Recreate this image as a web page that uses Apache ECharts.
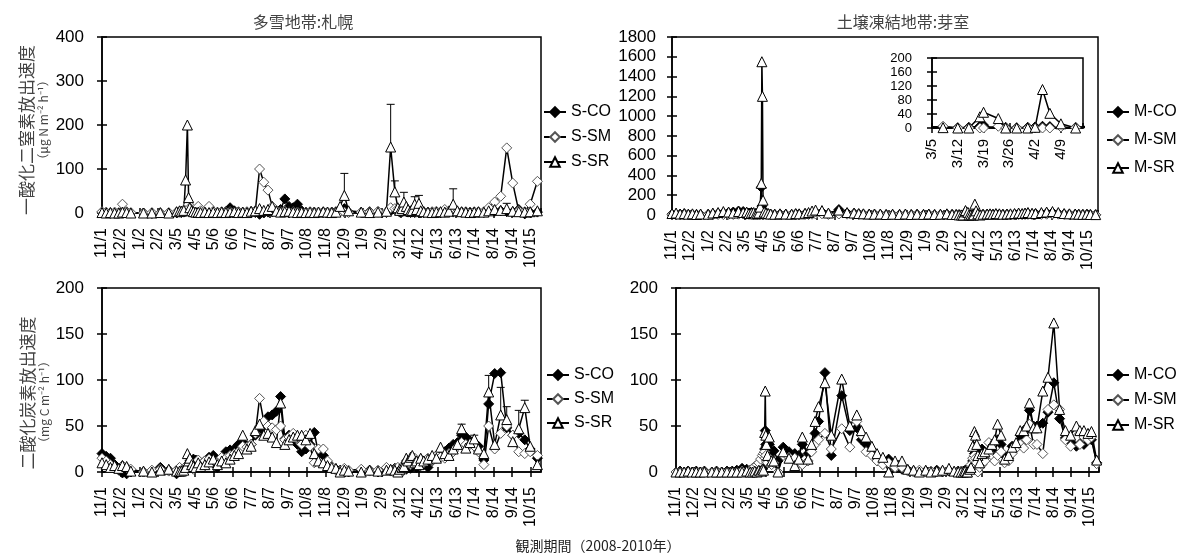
<!DOCTYPE html>
<html><head><meta charset="utf-8">
<script src="https://cdn.jsdelivr.net/npm/echarts@6/dist/echarts.min.js"></script>
<style>html,body{margin:0;padding:0;background:#fff}#c{width:1179px;height:555px}</style>
</head><body><div id="c"></div>
<script>
// ---------- tick labels ----------
const xTickLabels = ['11/1','12/2','1/2','2/2','3/5','4/5','5/6','6/6','7/7','8/7','9/7','10/8','11/8','12/9','1/9','2/9','3/12','4/12','5/13','6/13','7/14','8/14','9/14','10/15'];
const insetTickLabels = ['3/5','3/12','3/19','3/26','4/2','4/9'];

// ---------- Sapporo (多雪地帯) ----------
const sapDates = ['2008-11-01','2008-11-08','2008-11-15','2008-11-22','2008-11-29','2008-12-05','2008-12-12','2008-12-19','2009-01-09','2009-01-23',
'2009-02-06','2009-02-20','2009-03-05','2009-03-10','2009-03-13','2009-03-17','2009-03-20','2009-03-23','2009-03-25','2009-03-27',
'2009-03-30','2009-04-02','2009-04-06','2009-04-10','2009-04-14','2009-04-21','2009-04-28','2009-05-05','2009-05-12','2009-05-19',
'2009-05-26','2009-06-02','2009-06-09','2009-06-16','2009-06-23','2009-06-30','2009-07-07','2009-07-14','2009-07-21','2009-07-28',
'2009-08-04','2009-08-11','2009-08-18','2009-08-25','2009-09-01','2009-09-08','2009-09-15','2009-09-22','2009-09-29','2009-10-06',
'2009-10-13','2009-10-20','2009-10-27','2009-11-04','2009-11-11','2009-11-18','2009-11-25','2009-12-02','2009-12-09','2009-12-16',
'2010-01-06','2010-01-20','2010-02-03','2010-02-17','2010-02-24','2010-03-03','2010-03-08','2010-03-11','2010-03-15','2010-03-18',
'2010-03-22','2010-03-25','2010-03-29','2010-04-01','2010-04-05','2010-04-08','2010-04-12','2010-04-15','2010-04-20','2010-04-27',
'2010-05-04','2010-05-11','2010-05-18','2010-05-25','2010-06-01','2010-06-08','2010-06-15','2010-06-22','2010-06-29','2010-07-06',
'2010-07-13','2010-07-20','2010-07-29','2010-08-06','2010-08-16','2010-08-26','2010-09-05','2010-09-15','2010-09-25','2010-10-05',
'2010-10-14','2010-10-26'];
// N2O (µg N m-2 h-1)
const sapN2O_CO = [2,1,0,1,0,1,0,0,0,-1, 0,0,1,2,1,2,5,10,6,3, 2,1,1,0,1,0,1,2,1,2, 3,12,5,2,1,2,3,1,-3,0,
 2,3,5,8,32,15,12,20,5,2, 1,2,1,2,1,2,3,8,10,2, 1,3,2,1,5,8,5,2,3,4, 3,2,1,2,1,2,1,0,1,2,
 1,2,1,2,3,4,3,2,1,2, 1,2,1,3,4,5,3,2,8,-2, 1,2];
const sapN2O_SM = [3,2,1,2,1,20,3,1,0,1, 0,1,2,4,3,5,10,15,20,12, 6,4,3,15,5,3,15,4,2,3, 2,3,2,3,2,3,2,5,100,70,
 52,15,5,3,5,2,3,2,1,2, 3,1,2,1,2,1,2,3,2,1, 2,2,4,2,12,10,10,8,5,12, 8,6,4,5,4,3,5,2,3,2,
 3,4,2,8,5,2,3,2,3,2, 3,2,3,12,25,38,148,68,5,3, 20,72];
const sapN2O_SR = [1,0,1,0,0,2,1,0,0,0, 1,0,3,5,4,6,75,200,35,12, 5,3,2,2,1,2,1,2,1,2, 1,2,3,1,2,1,4,5,10,6,
 8,15,4,2,3,4,2,1,2,1, 2,1,2,3,2,1,2,15,40,5, 2,1,2,4,150,48,12,6,10,25, 15,8,5,6,20,8,22,5,3,2,
 1,2,3,2,4,20,5,3,2,1, 2,3,2,5,8,6,10,4,3,2, 3,5];
const sapN2O_SRerrDates = ['2009-12-09','2010-02-24','2010-03-03','2010-03-18','2010-04-05','2010-04-12','2010-06-08','2010-09-05'];
const sapN2O_SRerrSD    = [50,97,25,22,17,18,35,12];
// CO2 (mg C m-2 h-1)
const sapCO2_CO = [20,17,15,8,2,-1,-2,0,0,1, 5,2,-2,2,3,1,3,5,8,12, 10,14,13,12,10,12,16,18,5,14, 22,24,25,30,32,28,30,40,45,50,
 60,62,66,82,36,40,35,30,22,25, 30,43,20,18,10,5,3,2,1,0, 1,2,0,3,2,4,3,1,2,4, 3,5,4,6,8,5,10,7,8,5,
 12,15,20,22,26,30,32,40,38,34, 32,28,13,74,107,108,48,40,42,35, 25,15];
const sapCO2_SM = [15,12,8,5,3,7,5,3,0,2, 3,1,2,5,2,3,4,8,6,10, 5,3,8,13,8,12,14,12,10,16, 15,18,20,22,28,27,30,42,80,55,
 50,48,46,50,35,38,42,35,30,40, 28,10,25,25,12,6,2,1,4,2, 3,1,2,5,1,3,5,2,0,8, 12,10,8,12,15,10,12,14,10,15,
 12,18,16,15,20,22,28,32,30,30, 28,22,8,50,25,42,50,40,22,20, 22,18];
const sapCO2_SR = [10,8,5,7,4,7,6,1,1,0, 2,3,1,1,1,2,5,20,12,15, 8,6,5,10,6,8,11,14,8,12, 10,14,18,20,40,25,28,45,52,40,
 42,38,32,75,30,35,38,40,40,35, 42,20,12,10,7,5,4,0,2,1, 0,2,1,2,3,2,0,3,5,6, 15,12,16,18,10,12,8,15,12,14,
 18,15,27,20,18,25,30,47,26,32, 36,25,20,87,30,62,57,33,47,70, 28,8];
const sapCO2_SRerrDates = ['2010-06-22','2010-07-13','2010-08-06','2010-08-26','2010-09-05','2010-09-25','2010-10-05'];
const sapCO2_SRerrSD    = [5,4,18,30,14,20,8];

// ---------- Memuro (土壌凍結地帯) ----------
const memDates = ['2008-11-01','2008-11-08','2008-11-15','2008-11-22','2008-11-29','2008-12-06','2008-12-13','2008-12-20','2009-01-02','2009-01-10',
'2009-01-19','2009-01-28','2009-02-06','2009-02-14','2009-02-23','2009-03-03','2009-03-09','2009-03-13','2009-03-17','2009-03-21',
'2009-03-24','2009-03-27','2009-03-30','2009-04-01','2009-04-03','2009-04-04','2009-04-05','2009-04-06','2009-04-08','2009-04-11',
'2009-04-15','2009-04-19','2009-04-26','2009-05-05','2009-05-15','2009-05-25','2009-06-01','2009-06-07','2009-06-17','2009-06-23',
'2009-06-29','2009-07-05','2009-07-16','2009-07-27','2009-08-14','2009-08-28','2009-09-09','2009-09-17','2009-09-25','2009-10-05',
'2009-10-14','2009-10-24','2009-11-03','2009-11-14','2009-11-26','2009-12-06','2009-12-16','2009-12-26','2010-01-06','2010-01-15',
'2010-01-25','2010-02-04','2010-02-15','2010-02-24','2010-03-03','2010-03-08','2010-03-12','2010-03-15','2010-03-18','2010-03-19',
'2010-03-23','2010-03-25','2010-03-28','2010-03-31','2010-04-02','2010-04-04','2010-04-06','2010-04-09','2010-04-13','2010-04-18',
'2010-04-25','2010-04-30','2010-05-05','2010-05-10','2010-05-16','2010-05-22','2010-05-29','2010-06-04','2010-06-11','2010-06-18',
'2010-06-24','2010-06-29','2010-07-04','2010-07-11','2010-07-17','2010-07-27','2010-08-05','2010-08-15','2010-08-25','2010-09-04',
'2010-09-13','2010-09-23','2010-09-29','2010-10-06','2010-10-13','2010-10-19','2010-10-28'];
const memN2O_CO = [10,5,8,12,5,3,6,4,5,10, 15,20,25,30,40,35,15,20,25,10, 15,20,30,20,280,90,60,40,20,15, 10,8,5,8,5,3,10,8,12,15,
 20,25,30,10,55,20,15,10,8,5, 8,5,3,5,4,6,3,5,4,6, 3,5,8,4,3,2,1,2,5,8, -5,2,1,2,3,5,4,-3,2,4,
 5,6,4,8,6,4,5,6,8,10, 8,12,15,10,12,15,20,25,15,10, 8,6,5,4,5,3,2];
const memN2O_SM = [5,3,2,4,2,1,2,1,2,3, 5,4,6,5,8,10,8,5,10,5, 8,6,10,5,10,8,10,5,8,5, 3,5,2,3,2,4,5,3,4,5,
 8,10,12,5,10,8,10,5,4,3, 2,3,2,3,2,3,2,1,2,3, 2,2,3,2,1,5,0,0,0,0, 5,0,0,0,0,0,0,3,1,2,
 3,2,3,4,3,2,3,4,3,5, 4,5,6,5,4,6,8,10,8,5, 4,3,2,3,2,2,1];
const memN2O_SR = [15,20,10,15,8,12,5,10,8,20, 25,35,30,20,35,25,30,15,20,25, 10,15,20,80,320,1550,1200,150,30,20, 15,10,8,12,10,8,15,12,18,25,
 40,50,45,20,50,25,20,15,12,10, 8,10,5,8,6,10,5,8,6,10, 5,8,12,6,5,1,0,0,32,45, 27,0,0,0,2,110,42,12,0,8,
 10,12,8,15,12,8,10,12,15,20, 15,20,25,18,15,25,30,35,25,15, 12,10,8,6,8,5,4];
const memCO2_CO = [0,1,0,1,0,1,0,1,0,1, 0,1,1,2,4,3,2,1,0,2, 1,2,3,5,25,45,30,28,22,30, 22,23,12,27,22,20,18,30,20,25,
 42,55,108,18,83,45,48,35,30,22, 16,12,14,8,3,2,1,0,1,0, 2,0,1,0,1,0,1,2,0,1, 2,3,12,20,28,25,25,22,25,20,
 20,22,20,35,30,18,15,28,30,40, 40,48,67,50,50,53,65,97,58,37, 33,28,32,30,38,35,10];
const memCO2_SM = [0,0,0,0,0,0,0,0,0,0, 0,0,0,0,1,0,2,4,6,8, 10,14,18,20,22,15,18,12,10,15, 8,10,0,18,16,15,10,8,12,22,
 30,35,42,25,47,27,55,40,22,18, 12,8,10,5,5,1,0,2,0,1, 0,1,2,0,0,1,0,0,2,0, 4,8,15,18,15,10,0,5,8,12,
 32,18,12,18,22,10,12,20,26,30, 26,35,52,30,30,20,68,73,68,35, 28,38,30,38,35,38,9];
const memCO2_SR = [0,0,0,1,0,0,0,0,0,0, 0,0,0,0,0,1,0,0,1,0, 2,1,3,2,43,88,40,30,18,38, 12,12,0,22,15,7,14,38,14,30,
 55,71,97,40,101,50,62,45,38,28, 20,16,0,12,12,3,2,0,2,0, 1,2,4,1,0,0,0,1,0,0, 3,5,28,44,40,30,18,10,20,22,
 25,30,35,52,40,14,18,27,32,45, 45,50,75,48,48,88,103,162,68,45, 40,50,45,45,42,44,13];

// ---------- helpers ----------
const BASE = Date.UTC(2008, 10, 1);
const dayOf = s => Math.round((Date.parse(s) - BASE) / 86400000);
const pts = (dates, vals) => dates.map((d, i) => [dayOf(d), vals[i]]);
const errPts = (dates, vals, eDates, sd) => eDates.map((d, i) => { const v = vals[dates.indexOf(d)]; return [dayOf(d), v, v + sd[i]]; });
const FONT = '"Liberation Sans", Arial, sans-serif';
const JP = '"Noto Sans CJK JP", sans-serif';
const INSET_MIN = dayOf('2010-03-05');

const grids = [
  {left:102, top:37, width:439, height:176},
  {left:672, top:37, width:426, height:178},
  {left:102, top:288, width:439, height:184},
  {left:676, top:288, width:423, height:184},
  {left:932, top:58, width:151, height:70}
].map(g => Object.assign({show:true, borderColor:'#000', borderWidth:1.5, backgroundColor:'#fff', containLabel:false}, g));

const tickStyle = {color:'#000', width:1.5};
function xPair(g, min, max, interval, fmt, fontSize, margin) {
  const base = {type:'value', gridIndex:g, min, max, interval, position:'bottom', splitLine:{show:false}};
  return [
    Object.assign({}, base, {axisLine:{show:true, onZero:false, lineStyle:tickStyle},
      axisTick:{show:true, inside:false, length:5, lineStyle:tickStyle},
      axisLabel:{show:true, rotate:90, margin, fontSize, color:'#000', fontFamily:FONT, formatter:fmt, showMaxLabel:false, showMinLabel:true, hideOverlap:false}}),
    Object.assign({}, base, {axisLine:{show:false, onZero:false}, axisTick:{show:true, inside:true, length:5, lineStyle:tickStyle}, axisLabel:{show:false}})
  ];
}
function yPair(g, min, max, interval, fontSize, margin, lineHeight) {
  const base = {type:'value', gridIndex:g, min, max, interval, position:'left', splitLine:{show:false}};
  return [
    Object.assign({}, base, {axisLine:{show:true, onZero:false, lineStyle:tickStyle},
      axisTick:{show:true, inside:false, length:5, lineStyle:tickStyle},
      axisLabel:{show:true, interval:0, margin, fontSize, lineHeight: lineHeight || fontSize, color:'#000', fontFamily:FONT, hideOverlap:false,
        showMinLabel:true, showMaxLabel:true, formatter:v => String(v)}}),
    Object.assign({}, base, {axisLine:{show:false, onZero:false}, axisTick:{show:true, inside:true, length:5, lineStyle:tickStyle}, axisLabel:{show:false}})
  ];
}
const mainFmt = v => xTickLabels[Math.round(v / 31)] || '';
const insetFmt = v => insetTickLabels[Math.round((v - INSET_MIN) / 7)] || '';

const xAxis = [].concat(
  xPair(0, 0, 730, 31, mainFmt, 16, 15),
  xPair(1, 0, 730, 31, mainFmt, 16, 15),
  xPair(2, 0, 730, 31, mainFmt, 16, 15),
  xPair(3, 0, 730, 31, mainFmt, 16, 15),
  xPair(4, INSET_MIN, INSET_MIN + 41, 7, insetFmt, 15, 11)
);
const yAxis = [].concat(
  yPair(0, 0, 400, 100, 17, 18),
  yPair(1, 0, 1800, 200, 17, 16),
  yPair(2, 0, 200, 50, 17, 18),
  yPair(3, 0, 200, 50, 17, 18),
  yPair(4, 0, 200, 40, 13, 20, 11)
);

const styles = {
  CO: {symbol:'diamond', symbolSize:10, itemStyle:{color:'#000', borderColor:'#000', borderWidth:1}},
  SM: {symbol:'diamond', symbolSize:10, itemStyle:{color:'#fff', borderColor:'#555', borderWidth:1}},
  SR: {symbol:'triangle', symbolSize:10, itemStyle:{color:'#fff', borderColor:'#000', borderWidth:1}}
};
function line(name, kind, data, g, clip) {
  return Object.assign({type:'line', name, data, xAxisIndex:2*g, yAxisIndex:2*g, clip:!!clip,
    lineStyle:{color:'#000', width:1.5}, showAllSymbol:true, animation:false, z:3}, styles[kind]);
}
function errBars(data, g) {
  return {type:'custom', xAxisIndex:2*g, yAxisIndex:2*g, data, z:2, animation:false, silent:true,
    renderItem:(params, api) => {
      const p0 = api.coord([api.value(0), api.value(1)]);
      const p1 = api.coord([api.value(0), api.value(2)]);
      return {type:'group', children:[
        {type:'line', shape:{x1:p0[0], y1:p0[1], x2:p1[0], y2:p1[1]}, style:{stroke:'#000', lineWidth:1}},
        {type:'line', shape:{x1:p1[0]-4, y1:p1[1], x2:p1[0]+4, y2:p1[1]}, style:{stroke:'#000', lineWidth:1}}
      ]};
    }};
}

const series = [
  errBars(errPts(sapDates, sapN2O_SR, sapN2O_SRerrDates, sapN2O_SRerrSD), 0),
  line('S-CO','CO', pts(sapDates, sapN2O_CO), 0),
  line('S-SM','SM', pts(sapDates, sapN2O_SM), 0),
  line('S-SR','SR', pts(sapDates, sapN2O_SR), 0),
  line('M-CO','CO', pts(memDates, memN2O_CO), 1),
  line('M-SM','SM', pts(memDates, memN2O_SM), 1),
  line('M-SR','SR', pts(memDates, memN2O_SR), 1),
  errBars(errPts(sapDates, sapCO2_SR, sapCO2_SRerrDates, sapCO2_SRerrSD), 2),
  line('S-CO','CO', pts(sapDates, sapCO2_CO), 2),
  line('S-SM','SM', pts(sapDates, sapCO2_SM), 2),
  line('S-SR','SR', pts(sapDates, sapCO2_SR), 2),
  line('M-CO','CO', pts(memDates, memCO2_CO), 3),
  line('M-SM','SM', pts(memDates, memCO2_SM), 3),
  line('M-SR','SR', pts(memDates, memCO2_SR), 3),
  // inset: same Memuro N2O data, zoomed to March–April 2010
  line('M-CO','CO', pts(memDates, memN2O_CO), 4, true),
  line('M-SM','SM', pts(memDates, memN2O_SM), 4, true),
  line('M-SR','SR', pts(memDates, memN2O_SR), 4, true)
];

function legend(names, left, top, gap) {
  return {show:true, data:names, orient:'vertical', left, top, itemGap:gap, itemWidth:22, itemHeight:12, padding:0,
    selectedMode:false, textStyle:{fontSize:16, color:'#000', fontFamily:FONT, lineHeight:16}};
}
const S = ['S-CO','S-SM','S-SR'], M = ['M-CO','M-SM','M-SR'];

function txt(x, y, text, size, color, rot, family) {
  return {type:'text', x, y, rotation:rot || 0, silent:true,
    style:{text, fill:color, font:size + 'px ' + (family || JP), align:'center', verticalAlign:'middle', textAlign:'center', textVerticalAlign:'middle'}};
}

const chart = echarts.init(document.getElementById('c'), null, {renderer:'canvas'});
chart.setOption({
  animation:false,
  backgroundColor:'#fff',
  grid:grids, xAxis, yAxis, series,
  legend:[legend(S, 543, 104, 9), legend(M, 1106, 104, 12), legend(S, 546, 367, 8), legend(M, 1106, 367, 9)],
  graphic:[
    txt(303, 22, '多雪地帯:札幌', 16, '#444'),
    txt(903, 22, '土壌凍結地帯:芽室', 16, '#444'),
    txt(27, 130, '一酸化二窒素放出速度', 17, '#444', Math.PI/2),
    txt(43, 120, '（μg N m⁻² h⁻¹）', 12, '#444', Math.PI/2),
    txt(28, 393, '二酸化炭素放出速度', 17, '#444', Math.PI/2),
    txt(44, 402, '（mg C m⁻² h⁻¹）', 12, '#444', Math.PI/2),
    txt(598, 546, '観測期間（2008-2010年）', 14, '#222')
  ]
});
</script></body></html>
